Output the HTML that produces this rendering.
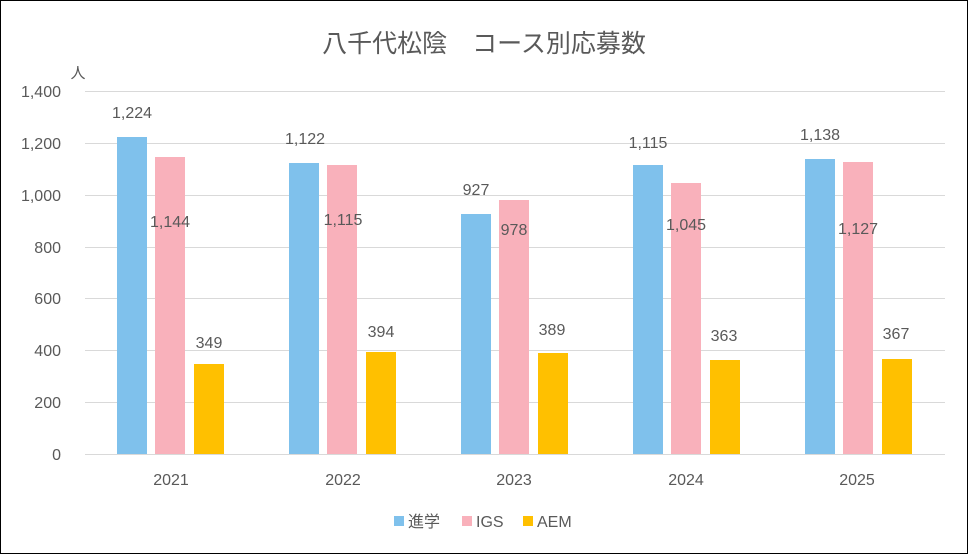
<!DOCTYPE html>
<html><head><meta charset="utf-8"><style>
body{margin:0;background:#fff;}
svg text{font-family:"Liberation Sans","Noto Sans CJK JP",sans-serif;fill:#595959;}
</style></head><body>
<svg width="968" height="554" xmlns="http://www.w3.org/2000/svg">
<rect x="0.5" y="0.5" width="967" height="553" fill="#fff" stroke="#000" stroke-width="1"/>
<text x="484" y="52" font-size="25" text-anchor="middle">八千代松陰　コース別応募数</text>
<text x="78" y="78" font-size="15" text-anchor="middle">人</text>
<g stroke="#d9d9d9" stroke-width="1">
<line x1="85" x2="945" y1="91.5" y2="91.5"/>
<line x1="85" x2="945" y1="143.5" y2="143.5"/>
<line x1="85" x2="945" y1="195.5" y2="195.5"/>
<line x1="85" x2="945" y1="247.5" y2="247.5"/>
<line x1="85" x2="945" y1="298.5" y2="298.5"/>
<line x1="85" x2="945" y1="350.5" y2="350.5"/>
<line x1="85" x2="945" y1="402.5" y2="402.5"/>
<line x1="85" x2="945" y1="454.5" y2="454.5"/>
</g>
<g font-size="16" text-anchor="end">
<text x="61" y="97">1,400</text><text x="61" y="149">1,200</text><text x="61" y="201">1,000</text>
<text x="61" y="253">800</text><text x="61" y="304">600</text><text x="61" y="356">400</text>
<text x="61" y="408">200</text><text x="61" y="460">0</text>
</g>
<g>
<rect x="117" y="137" width="30" height="317" fill="#7fc1ec"/>
<rect x="155" y="157" width="30" height="297" fill="#f9b1bb"/>
<rect x="194" y="364" width="30" height="90" fill="#ffc000"/>
<rect x="289" y="163" width="30" height="291" fill="#7fc1ec"/>
<rect x="327" y="165" width="30" height="289" fill="#f9b1bb"/>
<rect x="366" y="352" width="30" height="102" fill="#ffc000"/>
<rect x="461" y="214" width="30" height="240" fill="#7fc1ec"/>
<rect x="499" y="200" width="30" height="254" fill="#f9b1bb"/>
<rect x="538" y="353" width="30" height="101" fill="#ffc000"/>
<rect x="633" y="165" width="30" height="289" fill="#7fc1ec"/>
<rect x="671" y="183" width="30" height="271" fill="#f9b1bb"/>
<rect x="710" y="360" width="30" height="94" fill="#ffc000"/>
<rect x="805" y="159" width="30" height="295" fill="#7fc1ec"/>
<rect x="843" y="162" width="30" height="292" fill="#f9b1bb"/>
<rect x="882" y="359" width="30" height="95" fill="#ffc000"/>
</g>
<g font-size="16" text-anchor="middle" fill="#404040">
<text x="132" y="118">1,224</text><text x="170" y="227">1,144</text><text x="209" y="348">349</text>
<text x="305" y="144">1,122</text><text x="343" y="225">1,115</text><text x="381" y="337">394</text>
<text x="476" y="195">927</text><text x="514" y="235">978</text><text x="552" y="335">389</text>
<text x="648" y="148">1,115</text><text x="686" y="230">1,045</text><text x="724" y="341">363</text>
<text x="820" y="140">1,138</text><text x="858" y="234">1,127</text><text x="896" y="339">367</text>
</g>
<g font-size="16" text-anchor="middle">
<text x="171" y="485">2021</text><text x="343" y="485">2022</text><text x="514" y="485">2023</text>
<text x="686" y="485">2024</text><text x="857" y="485">2025</text>
</g>
<g font-size="16">
<rect x="394" y="516" width="10" height="10" fill="#7fc1ec"/><text x="408" y="527">進学</text>
<rect x="462" y="516" width="10" height="10" fill="#f9b1bb"/><text x="476" y="527">IGS</text>
<rect x="523" y="516" width="10" height="10" fill="#ffc000"/><text x="537" y="527">AEM</text>
</g>
</svg>
</body></html>
